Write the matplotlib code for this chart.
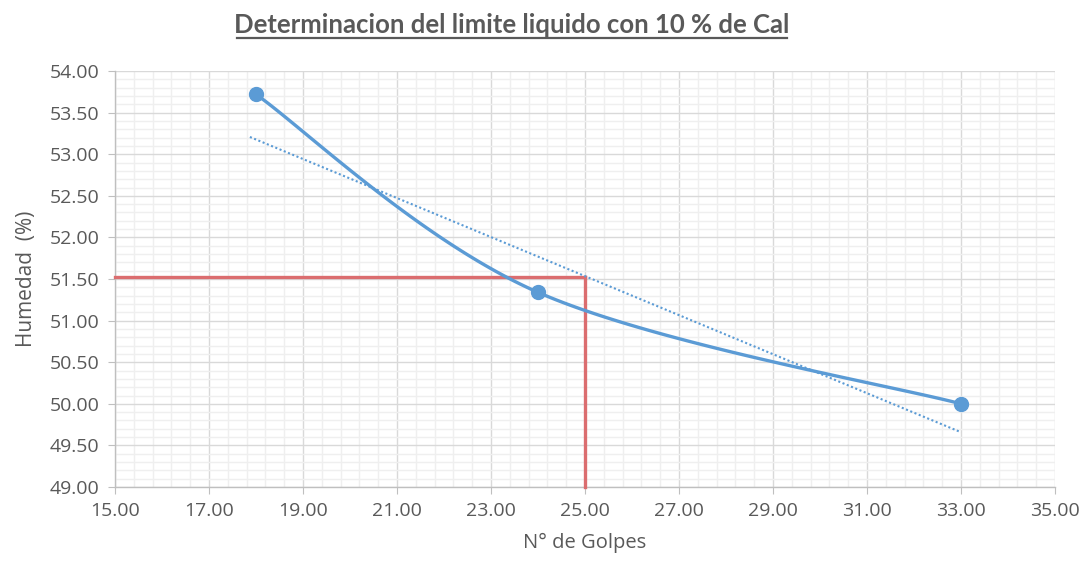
import numpy as np
import matplotlib.pyplot as plt
from matplotlib.ticker import MultipleLocator, FormatStrFormatter

# ensayo de limite liquido (Casagrande) con 10 % de cal
golpes = [18, 24, 33]
humedad = [53.72, 51.34, 50.00]

# linea de tendencia lineal  y = a + b*x
trend_a = 57.40
trend_b = -0.2346
trend_x = [17.87, 33.0]

# humedad a 25 golpes
golpes_ll = 25
limite_liquido = 51.52

blue = '#5B9BD5'
red = '#DB6D6F'
gray = '#595959'


def excel_smooth(xs, ys, n=60):
    # curva suavizada tipo Excel (Bezier cubica, Catmull-Rom)
    pts = np.column_stack([xs, ys]).astype(float)
    ext = np.vstack([pts[0], pts, pts[-1]])
    out = []
    for i in range(len(pts) - 1):
        p0, p1 = ext[i + 1], ext[i + 2]
        c1 = p0 + (ext[i + 2] - ext[i]) / 6.0
        c2 = p1 - (ext[i + 3] - ext[i + 1]) / 6.0
        t = np.linspace(0, 1, n)[:, None]
        seg = (1 - t) ** 3 * p0 + 3 * (1 - t) ** 2 * t * c1 + 3 * (1 - t) * t ** 2 * c2 + t ** 3 * p1
        out.append(seg)
    curve = np.vstack(out)
    return curve[:, 0], curve[:, 1]


plt.rcParams['font.family'] = ['Open Sans', 'DejaVu Sans']

fig = plt.figure(figsize=(10.85, 5.64), dpi=100)
ax = fig.add_axes([0.106, 0.1365, 0.8664, 0.7375])

ax.set_xlim(15, 35)
ax.set_ylim(49, 54)
ax.xaxis.set_major_locator(MultipleLocator(2, offset=1))
ax.xaxis.set_minor_locator(MultipleLocator(0.4, offset=0.2))
ax.yaxis.set_major_locator(MultipleLocator(0.5))
ax.yaxis.set_minor_locator(MultipleLocator(0.1))
ax.xaxis.set_major_formatter(FormatStrFormatter('%.2f'))
ax.yaxis.set_major_formatter(FormatStrFormatter('%.2f'))

ax.grid(which='minor', color='#EFEFEF', linewidth=1.0, zorder=0)
ax.grid(which='major', color='#D9D9D9', linewidth=1.0, zorder=0)
ax.set_axisbelow(True)

for side in ['top', 'right']:
    ax.spines[side].set_visible(False)
for side in ['left', 'bottom']:
    ax.spines[side].set_color('#BFBFBF')
    ax.spines[side].set_linewidth(1.0)

ax.tick_params(which='major', length=5, color='#BFBFBF', labelsize=14, labelcolor=gray, pad=6)
ax.tick_params(which='minor', length=0)

# lineas rojas del limite liquido
ax.plot([15, golpes_ll], [limite_liquido, limite_liquido], color=red, linewidth=2.4, zorder=3, clip_on=False)
ax.plot([golpes_ll, golpes_ll], [49, limite_liquido], color=red, linewidth=2.4, zorder=3, clip_on=False)

# curva de fluidez
sx, sy = excel_smooth(golpes, humedad)
ax.plot(sx, sy, color=blue, linewidth=2.4, zorder=4, solid_capstyle='round')
ax.plot(golpes, humedad, 'o', color=blue, markersize=10, zorder=5)

# tendencia
tx = np.array(trend_x)
ax.plot(tx, trend_a + trend_b * tx, color=blue, linewidth=1.5, linestyle=(0, (1, 1.2)), zorder=4)

ax.set_xlabel('N° de Golpes', fontsize=14.5, color=gray, labelpad=9)
ax.set_ylabel('Humedad  (%)', fontsize=15, color=gray, labelpad=9)

fig.text(0.472, 0.9415, 'Determinacion del limite liquido con 10 % de Cal',
         family=['Lato', 'DejaVu Sans'], fontsize=18.5, fontweight='bold', color=gray,
         ha='center', va='baseline')
fig.add_artist(plt.Line2D([0.2185, 0.7255], [0.9335, 0.9335], color=gray, linewidth=1.6))

fig.savefig('out.png', dpi=100)
